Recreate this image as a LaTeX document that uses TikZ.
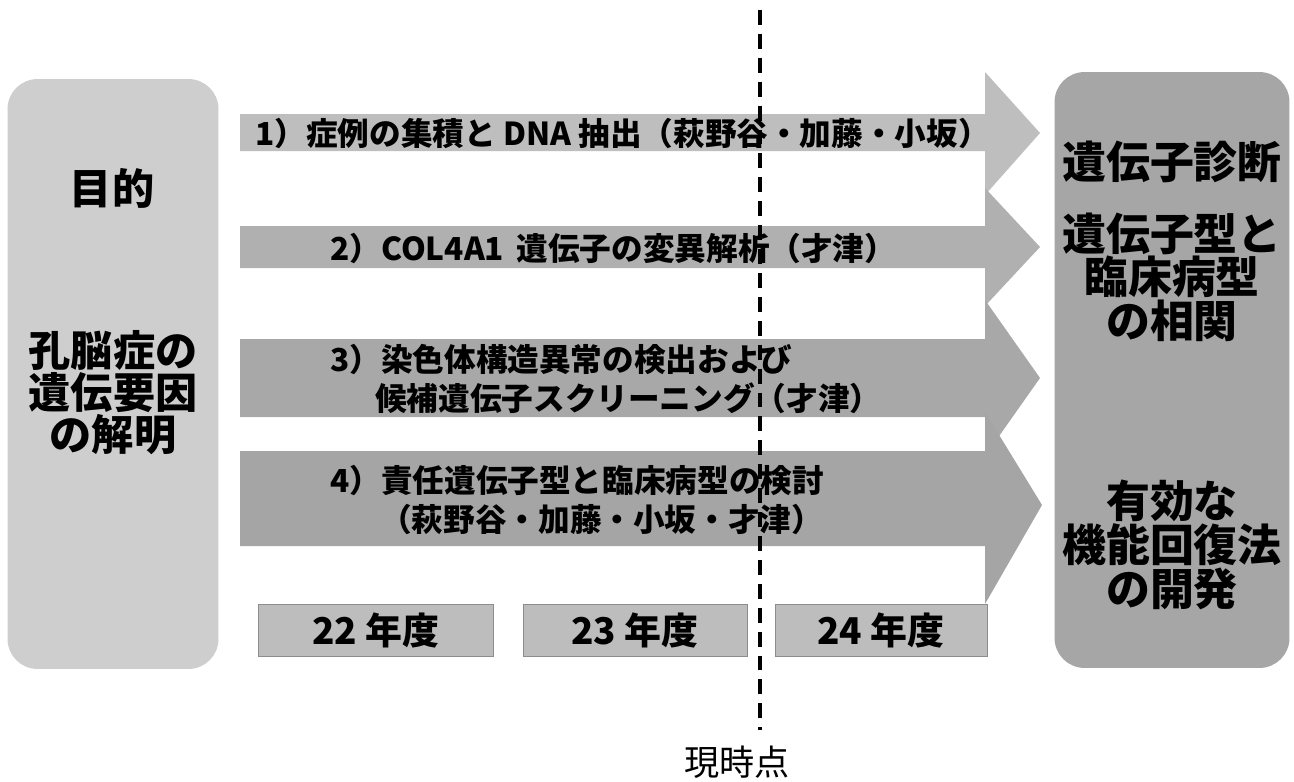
\documentclass[tikz,border=0pt]{standalone}
\usepackage{fontspec}
\newfontfamily\cjk{Noto Sans CJK JP}
\newcommand\pxsize[2]{\fontsize{#1}{#2}\selectfont}
\definecolor{leftgray}{HTML}{CECECE}
\definecolor{rightgray}{HTML}{A6A6A6}
\definecolor{arrA}{HTML}{BEBEBE}
\definecolor{arrB}{HTML}{B0B0B0}
\definecolor{arrC}{HTML}{A8A8A8}
\definecolor{arrD}{HTML}{A5A5A5}
\definecolor{yeargray}{HTML}{BDBDBD}
\definecolor{yearline}{HTML}{8C8C8C}
\begin{document}
\begin{tikzpicture}[x=0.02cm,y=-0.02cm,
  lefttxt/.style={font=\cjk\bfseries\pxsize{24}{22.3}, align=center, text=black},
  righttxt/.style={font=\cjk\bfseries\pxsize{25}{22.7}, align=center, text=black},
  arrtxt/.style={font=\cjk\bfseries\pxsize{18}{21.8}, text=black, anchor=west, align=left, inner sep=0pt},
  yearbox/.style={draw=yearline, line width=0.4pt, fill=yeargray, minimum height=1.04cm, inner sep=0pt, font=\cjk\bfseries\pxsize{21}{22}},
  nowline/.style={line width=4*0.567pt, dash pattern=on 15*0.567pt off 9*0.567pt}]
\useasboundingbox (0,0) rectangle (1294,781);
\fill[white] (0,0) rectangle (1294,781);

% left box
\node[fill=leftgray, rounded corners=0.6cm, minimum width=4.22cm, minimum height=11.8cm, inner sep=0pt] (purpose) at (113,374) {};
\node[lefttxt] (t1) at (112,188) {目的};
\node[lefttxt] (t2) at (113,393) {孔脳症の\\遺伝要因\\の解明};

% right box
\node[fill=rightgray, rounded corners=0.6cm, minimum width=4.7cm, minimum height=11.92cm, inner sep=0pt] (goal) at (1172,370) {};
\node[righttxt] (g1) at (1172,162) {遺伝子診断};
\node[righttxt] (g2) at (1172,277) {遺伝子型と\\臨床病型\\の相関};
\node[righttxt] (g3) at (1172,545) {有効な\\機能回復法\\の開発};

% arrows
\fill[arrA] (240,114) -- (985,114) -- (985,72) -- (1040,133) -- (985,195) -- (985,151) -- (240,151) -- cycle;
\fill[arrB] (240,226) -- (985,226) -- (985,188) -- (1040,247) -- (985,306) -- (985,268) -- (240,268) -- cycle;
\fill[arrC] (240,339) -- (985,339) -- (985,300) -- (1040,378) -- (985,456) -- (985,417) -- (240,417) -- cycle;
\fill[arrD] (240,451) -- (985,451) -- (985,412) -- (1042,505) -- (985,604) -- (985,546) -- (240,546) -- cycle;

\node[arrtxt] (a1) at (255,133) {1）症例の集積と DNA 抽出（萩野谷・加藤・小坂）};
\node[arrtxt] (a2) at (330,248) {2）COL4A1\, 遺伝子の変異解析（才津）};
\node[arrtxt] (a3) at (330,379) {3）染色体構造異常の検出および\\\hspace*{0.9cm}候補遺伝子スクリーニング（才津）};
\node[arrtxt] (a4) at (330,500) {4）責任遺伝子型と臨床病型の検討\\\hspace*{1.0cm}（萩野谷・加藤・小坂・才津）};

% years
\node[yearbox, minimum width=4.7cm] (y22) at (376,630) {22 年度};
\node[yearbox, minimum width=4.48cm] (y23) at (635,630) {23 年度};
\node[yearbox, minimum width=4.24cm] (y24) at (881,630) {24 年度};

% now line
\coordinate (ntop) at (760,10);
\coordinate (nbot) at (760,730);
\draw[nowline] (ntop) -- (nbot);
\node[font=\cjk\pxsize{20}{22}, inner sep=0pt] (now) at (737,762) {現時点};
\end{tikzpicture}
\end{document}
